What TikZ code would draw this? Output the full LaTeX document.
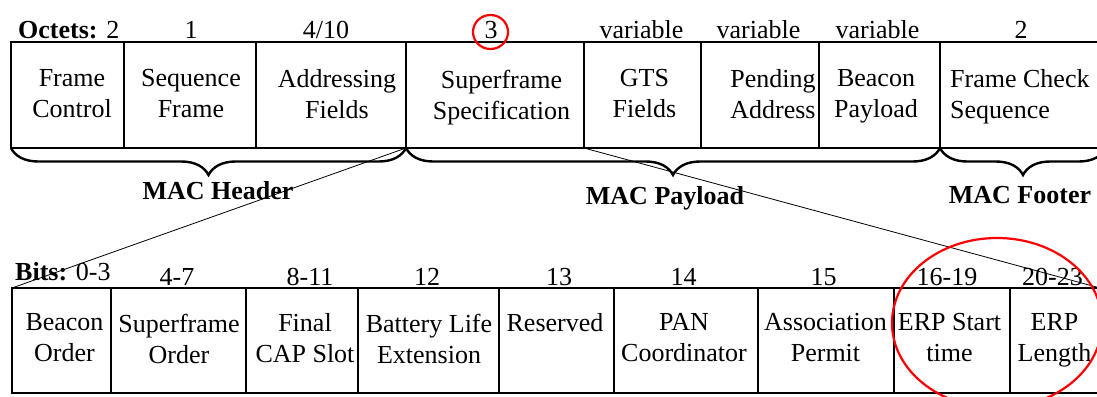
\documentclass[tikz,border=0pt]{standalone}
\usepackage{fontspec}
\setmainfont{Liberation Serif}
\usetikzlibrary{decorations.pathreplacing,shapes.geometric}
\begin{document}
\begin{tikzpicture}[x=1pt,y=-1pt,
  cell/.style={draw, line width=1.6pt, inner sep=0pt, outer sep=0pt, anchor=north west},
  toprow/.style={cell, minimum height=106pt},
  botrow/.style={cell, minimum height=105pt},
  txt/.style={font=\fontsize{26}{31}\selectfont, align=center, inner sep=0pt, anchor=north},
  lbl/.style={font=\fontsize{26}{31}\selectfont, inner sep=0pt, anchor=base},
  mac/.style={font=\fontsize{26}{31}\selectfont\bfseries, inner sep=0pt, anchor=base},
  brc/.style={decorate, decoration={brace, mirror, amplitude=27pt}, line width=2.4pt},
  zoomline/.style={line width=0.8pt},
  redmark/.style={draw=red, line width=2.2pt, ellipse, inner sep=0pt}]
\useasboundingbox (0,0) rectangle (1097,396);
\clip (0,0) rectangle (1097,396);

% ---- top row (octets)
\node[toprow, minimum width=113pt] (t1) at (11,42) {};
\node[toprow, minimum width=132pt] (t2) at (124,42) {};
\node[toprow, minimum width=150pt] (t3) at (256,42) {};
\node[toprow, minimum width=178pt] (t4) at (406,42) {};
\node[toprow, minimum width=117pt] (t5) at (584,42) {};
\node[toprow, minimum width=118pt] (t6) at (701,42) {};
\node[toprow, minimum width=121pt] (t7) at (819,42) {};
\node[toprow, minimum width=166pt] (t8) at (940,42) {};

\node[txt] (x1) at (72,69.5) {Frame\\Control};
\node[txt] (x2) at (191,69.5) {Sequence\\Frame};
\node[txt] (x3) at (337,69.5) {Addressing\\Fields};
\node[txt] (x4) at (501.5,69.5) {Superframe\\Specification};
\node[txt] (x5) at (644.5,69.5) {GTS\\Fields};
\node[txt] (x6) at (773,69.5) {Pending\\Address};
\node[txt] (x7) at (876,69.5) {Beacon\\Payload};
\node[txt, align=left, anchor=north west] (x8) at (950,69.5) {Frame Check\\Sequence};

\node[lbl, anchor=base west] (o1) at (18,38) {\textbf{Octets:} 2};
\node[lbl] (o2) at (191,38) {1};
\node[lbl] (o3) at (326,38) {4/10};
\node[lbl] (o4) at (491,38) {3};
\node[lbl] (o5) at (641.5,38) {variable};
\node[lbl] (o6) at (758.5,38) {variable};
\node[lbl] (o7) at (877.5,38) {variable};
\node[lbl] (o8) at (1021,38) {2};

\node[redmark, minimum width=35pt, minimum height=34pt] (c3) at (490.5,32) {};

% ---- braces
\draw[brc] (t1.south west) -- (t3.south east);
\draw[brc] (t4.south west) -- (t7.south east);
\draw[brc] (t8.south west) -- (t8.south east);
\node[mac] (mh) at (218,199) {MAC Header};
\node[mac] (mp) at (665,204) {MAC Payload};
\node[mac] (mf) at (1020,203) {MAC Footer};

% ---- bottom row (bits)
\node[botrow, minimum width=99pt] (b1) at (12,288) {};
\node[botrow, minimum width=135pt] (b2) at (111,288) {};
\node[botrow, minimum width=112pt] (b3) at (246,288) {};
\node[botrow, minimum width=141pt] (b4) at (358,288) {};
\node[botrow, minimum width=115pt] (b5) at (499,288) {};
\node[botrow, minimum width=144pt] (b6) at (614,288) {};
\node[botrow, minimum width=136pt] (b7) at (758,288) {};
\node[botrow, minimum width=116pt] (b8) at (894,288) {};
\node[botrow, minimum width=90pt] (b9) at (1010,288) {};

\node[txt] (y1) at (64.5,313.5) {Beacon\\Order};
\node[txt] (y2) at (179,313.5) {Superframe\\Order};
\node[txt] (y3) at (305,313.5) {Final\\CAP Slot};
\node[txt] (y4) at (429,313.5) {Battery Life\\Extension};
\node[txt] (y5) at (555,313.5) {Reserved};
\node[txt] (y6) at (684,313.5) {PAN\\Coordinator};
\node[txt] (y7) at (825.5,313.5) {Association\\Permit};
\node[txt] (y8) at (949.5,313.5) {ERP Start\\time};
\node[txt] (y9) at (1054.5,313.5) {ERP\\Length};

\node[lbl, anchor=base west] (s1) at (15,280) {\textbf{Bits:} 0-3};
\node[lbl] (s2) at (177,285) {4-7};
\node[lbl] (s3) at (310,285) {8-11};
\node[lbl] (s4) at (427,285) {12};
\node[lbl] (s5) at (559,285) {13};
\node[lbl] (s6) at (683.5,285) {14};
\node[lbl] (s7) at (823.5,285) {15};
\node[lbl] (s8) at (947,285) {16-19};
\node[lbl] (s9) at (1052.5,285) {20-23};

% ---- zoom lines
\draw[zoomline] (t4.south west) -- (b1.north west);
\draw[zoomline] (t5.south west) -- (b9.north east);

\node[redmark, minimum width=210pt, minimum height=170pt] (erp) at (997,323) {};
\end{tikzpicture}
\end{document}
